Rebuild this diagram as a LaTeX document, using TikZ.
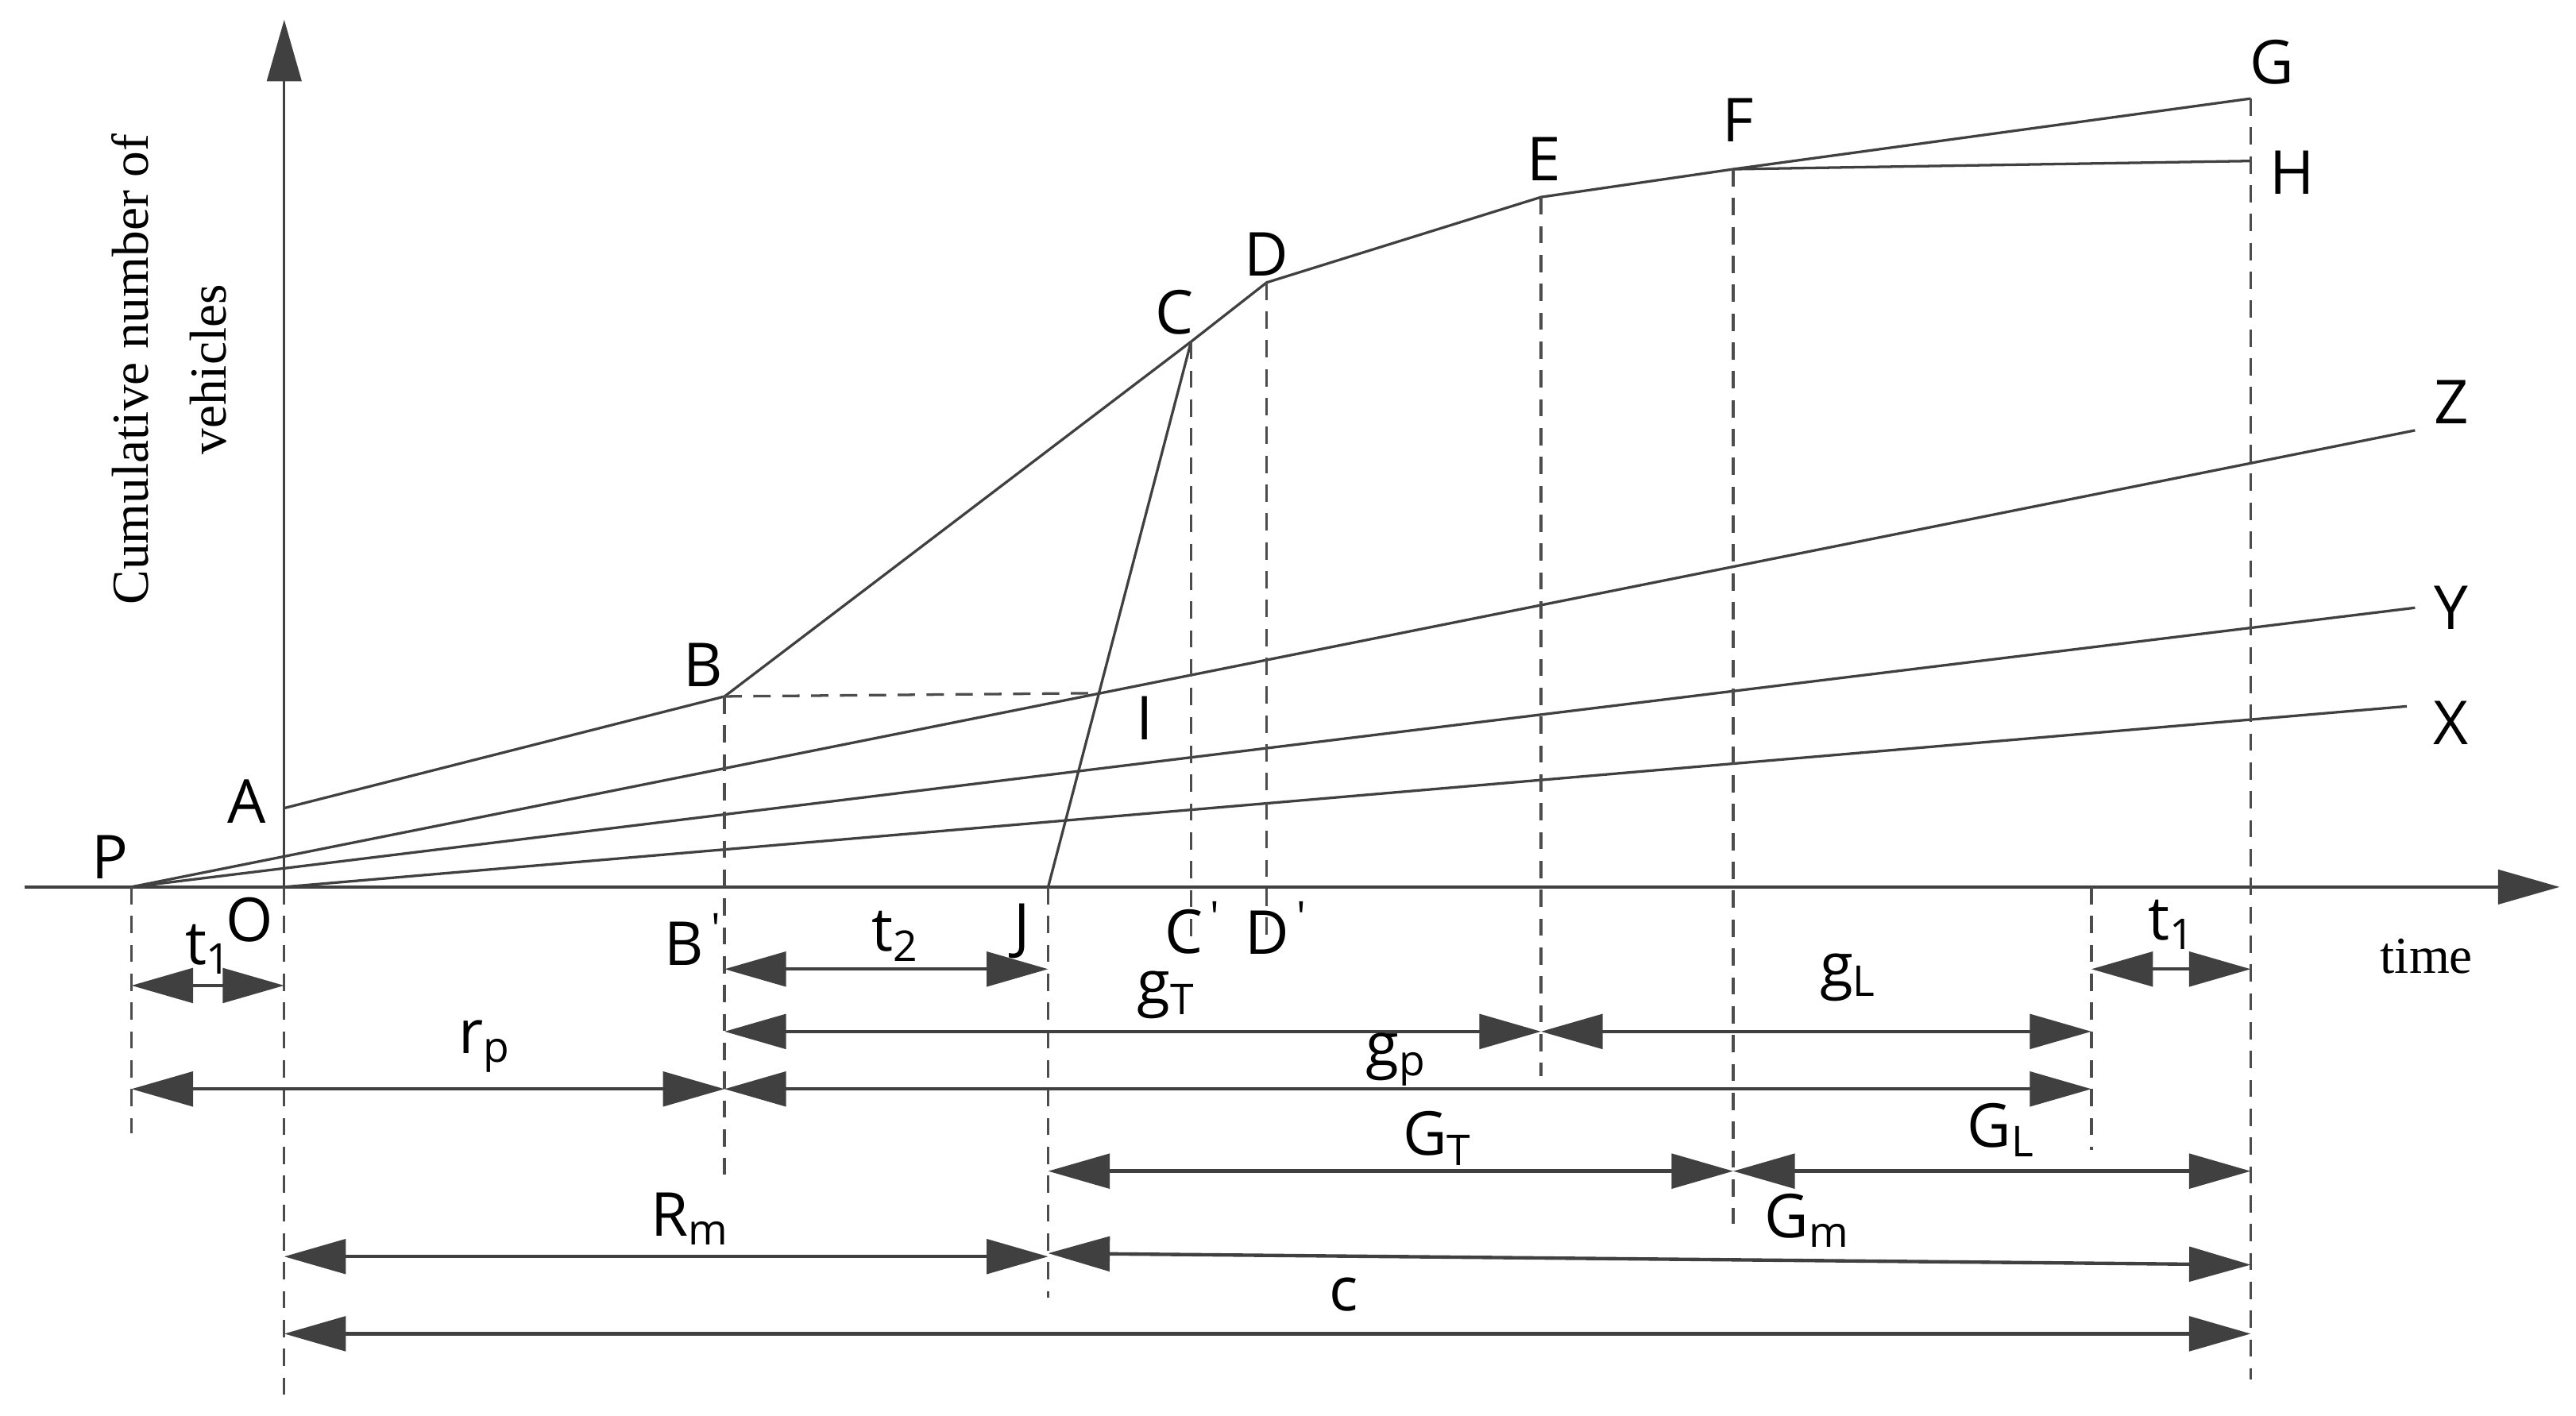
\documentclass[tikz,border=0pt]{standalone}
\usepackage{fontspec}
\setmainfont{Liberation Serif}
\newfontfamily\lab{Open Sans}
\usetikzlibrary{arrows.meta}
\begin{document}
\begin{tikzpicture}[x=0.02cm,y=-0.02cm,
  ln/.style={draw=black!75,line width=0.9pt},
  dsh/.style={draw=black!70,line width=0.9pt,dash pattern=on 6pt off 4pt},
  dim/.style={draw=black!75,line width=1.2pt,{Triangle[length=0.75cm,width=0.42cm]}-{Triangle[length=0.75cm,width=0.42cm]},color=black!75},
  lb/.style={font=\lab\fontsize{21}{25}\selectfont,inner sep=0pt},
  cp/.style={font=\fontsize{18}{27}\selectfont,inner sep=0pt}]
\useasboundingbox (0,0) rectangle (1568,862);
\newcommand{\sbs}[1]{\textsubscript{#1}}
% points
\coordinate (P) at (80,540); \coordinate (O) at (173,540);
\coordinate (A) at (173,492); \coordinate (B) at (441,424);
\coordinate (C) at (725,208); \coordinate (D) at (771,172);
\coordinate (E) at (938,120); \coordinate (F) at (1055,103);
\coordinate (G) at (1370,60); \coordinate (H) at (1370,98);
\coordinate (Z) at (1470,262); \coordinate (Y) at (1470,370);
\coordinate (X) at (1465,430); \coordinate (J) at (638,540);
\coordinate (I) at (667,422);
\coordinate (xs) at (15,540); \coordinate (xe) at (1558,540);
\coordinate (ys) at (173,540); \coordinate (ye) at (173,12);
% axes
\draw[ln,-{Triangle[length=0.75cm,width=0.42cm]},color=black!75] (xs) -- (xe);
\draw[ln,-{Triangle[length=0.75cm,width=0.42cm]},color=black!75] (ys) -- (ye);
% curves
\draw[ln] (A) -- (B) -- (C) -- (D) -- (E) -- (F) -- (G);
\draw[ln] (F) -- (H);
\draw[ln] (P) -- (Z); \draw[ln] (P) -- (Y); \draw[ln] (O) -- (X);
\draw[ln] (J) -- (C);
\draw[dsh] (B) -- (I);
% verticals
\foreach \n/\x/\a/\b in {v1/80/540/690, v2/441/424/715, v3/725/208/570, v4/771/172/570, v5/938/120/655, v6/1055/103/745, v7/1370/60/840, v8/173/540/850, v9/638/540/790, v10/1273/540/700}{
  \coordinate (\n a) at (\x,\a); \coordinate (\n b) at (\x,\b);
  \draw[dsh] (\n a) -- (\n b);}
% dimension lines
\foreach \n/\xa/\xb/\y in {t1/80/173/600, t2/441/638/590, gT/441/938/628, gL/938/1273/628, t1b/1273/1370/590, rp/80/441/663, gp/441/1273/663, GT/638/1055/713, GL/1055/1370/713, Rm/173/638/765, c/173/1370/812}{
  \coordinate (\n a) at (\xa,\y); \coordinate (\n b) at (\xb,\y);
  \draw[dim] (\n a) -- (\n b);}
\coordinate (Gma) at (638,763); \coordinate (Gmb) at (1370,770);
\draw[dim] (Gma) -- (Gmb);
% labels
\node[lb] (lP) at (67,522) {P}; \node[lb] (lO) at (152,560) {O};
\node[lb] (lA) at (150,488) {A}; \node[lb] (lB) at (428,405) {B};
\node[lb] (lC) at (715,190) {C}; \node[lb] (lD) at (771,155) {D};
\node[lb] (lE) at (940,97) {E}; \node[lb] (lF) at (1058,73) {F};
\node[lb] (lG) at (1383,38) {G}; \node[lb] (lH) at (1395,105) {H};
\node[lb] (lZ) at (1492,245) {Z}; \node[lb] (lY) at (1492,370) {Y};
\node[lb] (lX) at (1492,440) {X}; \node[lb] (lI) at (697,437) {I};
\node[lb] (lJ) at (622,567) {J};
\node[lb] (lBp) at (422,572) {B\textsuperscript{\,\textquotesingle}};
\node[lb] (lCp) at (726,565) {C\textsuperscript{\,\textquotesingle}};
\node[lb] (lDp) at (777,565) {D\textsuperscript{\,\textquotesingle}};
\node[lb] (l1) at (127,578) {t\sbs{1}}; \node[lb] (l2) at (545,570) {t\sbs{2}};
\node[lb] (l3) at (710,606) {g\sbs{T}}; \node[lb] (l4) at (1125,595) {g\sbs{L}};
\node[lb] (l5) at (1322,563) {t\sbs{1}}; \node[lb] (l6) at (295,637) {r\sbs{p}};
\node[lb] (l7) at (850,645) {g\sbs{p}}; \node[lb] (l8) at (875,693) {G\sbs{T}};
\node[lb] (l9) at (1218,688) {G\sbs{L}}; \node[lb] (l10) at (420,742) {R\sbs{m}};
\node[lb] (l11) at (1100,743) {G\sbs{m}}; \node[lb] (l12) at (818,788) {c};
\node[cp] (time) at (1477,582) {time};
\node[cp,rotate=90,align=center] (yl) at (103,225) {Cumulative number of\\vehicles};
\end{tikzpicture}
\end{document}
